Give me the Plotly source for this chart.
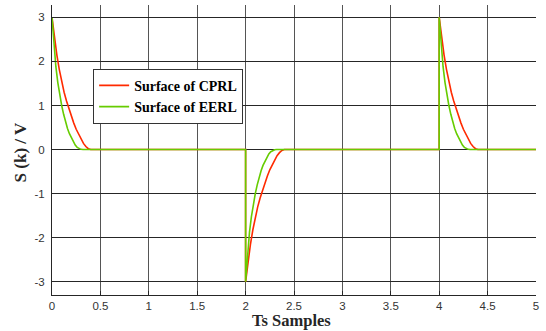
import plotly.graph_objects as go

# Decay profiles (time since switching, surface value)
red_t = [0, 0.025, 0.05, 0.075, 0.10, 0.125, 0.15, 0.175, 0.20, 0.225, 0.25, 0.275, 0.30, 0.325, 0.35, 0.375, 0.40]
red_s = [3.00, 2.55, 2.15, 1.82, 1.55, 1.30, 1.10, 0.92, 0.75, 0.60, 0.46, 0.34, 0.23, 0.14, 0.07, 0.02, 0.00]
green_t = [0, 0.02, 0.04, 0.06, 0.08, 0.10, 0.12, 0.14, 0.16, 0.18, 0.20, 0.22, 0.24, 0.26, 0.28, 0.30, 0.32]
green_s = [3.00, 2.35, 1.88, 1.52, 1.24, 1.00, 0.80, 0.63, 0.48, 0.36, 0.26, 0.17, 0.10, 0.05, 0.02, 0.005, 0.00]

switch_times = [0, 2, 4]
switch_signs = [1, -1, 1]
x_end = 5

x_ticks = [0, 0.5, 1, 1.5, 2, 2.5, 3, 3.5, 4, 4.5, 5]
y_ticks = [-3, -2, -1, 0, 1, 2, 3]


def build(ts, ss):
    xs, ys = [], []
    for t0, sg in zip(switch_times, switch_signs):
        if t0 > 0:
            xs.append(t0)
            ys.append(0)
        for t, s in zip(ts, ss):
            xs.append(t0 + t)
            ys.append(sg * s)
    xs.append(x_end)
    ys.append(0)
    return xs, ys


rx, ry = build(red_t, red_s)
gx, gy = build(green_t, green_s)

fig = go.Figure()
fig.add_trace(go.Scatter(x=rx, y=ry, mode="lines", name="<b>Surface of CPRL</b>",
                         line=dict(color="#ff2a00", width=1.6)))
fig.add_trace(go.Scatter(x=gx, y=gy, mode="lines", name="<b>Surface of EERL</b>",
                         line=dict(color="#66cc00", width=1.6)))

fig.update_layout(
    width=546, height=331,
    margin=dict(l=52, r=10, t=5, b=36),
    paper_bgcolor="white", plot_bgcolor="white",
    font=dict(family="Liberation Sans, Arial", size=11.5, color="#333333"),
    showlegend=True,
    legend=dict(x=0.085, y=0.78, xanchor="left", yanchor="top",
                bgcolor="white", bordercolor="#333333", borderwidth=1,
                font=dict(family="Liberation Serif, Times New Roman", size=14, color="black"),
                tracegroupgap=0, itemwidth=30),
    xaxis=dict(range=[0, 5], tickvals=x_ticks, ticktext=[str(v) for v in x_ticks],
               showgrid=True, gridcolor="#555555", gridwidth=1,
               showline=True, linecolor="#262626", linewidth=1, mirror=False,
               ticks="inside", ticklen=4, tickcolor="#262626", ticklabelstandoff=0,
               zeroline=False, fixedrange=True),
    yaxis=dict(range=[-3.3, 3.28], tickvals=y_ticks, ticktext=[str(v) for v in y_ticks],
               showgrid=True, gridcolor="#262626", gridwidth=1,
               showline=True, linecolor="#262626", linewidth=1, mirror=False,
               ticks="inside", ticklen=4, tickcolor="#262626", ticklabelstandoff=4,
               zeroline=False, fixedrange=True),
    annotations=[
        dict(text="<b>Ts Samples</b>", xref="paper", yref="paper", x=0.495, y=-0.124,
             xanchor="center", yanchor="bottom", showarrow=False, borderpad=0,
             font=dict(family="Liberation Serif, Times New Roman", size=16.5, color="#262626")),
        dict(text="<b>S (k) / V</b>", xref="paper", yref="paper", x=-0.065, y=0.49,
             xanchor="center", yanchor="middle", showarrow=False, textangle=-90,
             font=dict(family="Liberation Serif, Times New Roman", size=17, color="#262626")),
    ],
)

fig.write_html("out.html", config={"displayModeBar": False},
               post_script="document.body.style.margin='0';")
